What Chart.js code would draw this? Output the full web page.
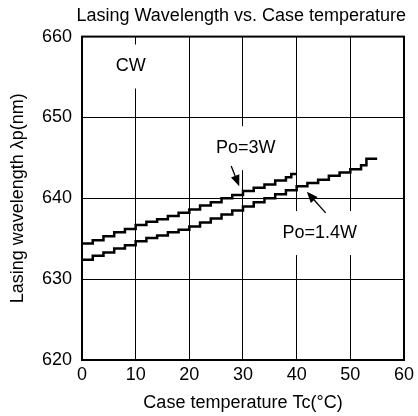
<!DOCTYPE html>
<html>
<head>
<meta charset="utf-8">
<script src="https://cdn.jsdelivr.net/npm/chart.js@4/dist/chart.umd.min.js"></script>
<style>
  html, body { margin: 0; padding: 0; background: #fff; }
  #wrap { width: 418px; height: 416px; }
</style>
</head>
<body>
<div id="wrap"><canvas id="chart" width="418" height="416"></canvas></div>
<script>
// Case temperature (°C) and wavelength (nm) for each stepped curve
const tempPo3W = [0, 2, 4, 6, 8, 10, 12, 14, 16, 18, 20, 22, 24, 26, 28, 30, 32, 34, 36, 38, 39, 40];
const wavePo3W = [634.4, 634.8, 635.3, 635.8, 636.2, 636.7, 637.1, 637.4, 637.8, 638.2, 638.6,
                  639.1, 639.5, 640.0, 640.4, 640.9, 641.3, 641.7, 642.2, 642.6, 643.0, 643.0];

const tempPo14W = [0, 2, 4, 6, 8, 10, 12, 14, 16, 18, 20, 22, 24, 26, 28, 30, 32, 34, 36, 38,
                   40, 42, 44, 46, 48, 50, 52, 53, 55];
const wavePo14W = [632.4, 632.9, 633.3, 633.8, 634.2, 634.7, 635.1, 635.4, 635.8, 636.1, 636.5,
                   637.0, 637.5, 638.0, 638.5, 639.0, 639.5, 640.0, 640.5, 641.0, 641.5,
                   641.9, 642.3, 642.8, 643.2, 643.6, 644.1, 644.9, 644.9];

const xTicks = [0, 10, 20, 30, 40, 50, 60];
const yTicks = [620, 630, 640, 650, 660];

const FONT = "'Liberation Sans', Arial, sans-serif";

function toPoints(xs, ys) {
    return xs.map((x, i) => ({ x: x, y: ys[i] }));
}

// Text labels and arrows, positioned in data coordinates
const notes = [
    { text: 'CW', x: 9.1, y: 656.3 },
    { text: 'Po=3W', x: 30.5, y: 646.2, arrow: [27.8, 644.0, 29.3, 641.5] },
    { text: 'Po=1.4W', x: 44.3, y: 635.7, arrow: [45.4, 638.2, 41.9, 640.8] }
];

const notesPlugin = {
    id: 'notes',
    beforeDatasetsDraw(chart) {
        // white boxes behind labels break the grid lines
        const { ctx, scales } = chart;
        ctx.save();
        ctx.font = '18px ' + FONT;
        ctx.fillStyle = '#fff';
        notes.forEach(n => {
            const w = ctx.measureText(n.text).width + 24;
            const cx = scales.x.getPixelForValue(n.x), cy = scales.y.getPixelForValue(n.y);
            ctx.fillRect(cx - w / 2, cy - 22, w, 44);
        });
        ctx.restore();
    },
    afterDatasetsDraw(chart) {
        const { ctx, scales } = chart;
        const xs = scales.x, ys = scales.y;
        ctx.save();
        ctx.fillStyle = '#000';
        ctx.strokeStyle = '#000';
        ctx.font = '18px ' + FONT;
        ctx.textAlign = 'center';
        ctx.textBaseline = 'middle';
        notes.forEach(n => {
            ctx.fillText(n.text, xs.getPixelForValue(n.x), ys.getPixelForValue(n.y));
            if (n.arrow) {
                const x1 = xs.getPixelForValue(n.arrow[0]), y1 = ys.getPixelForValue(n.arrow[1]);
                const x2 = xs.getPixelForValue(n.arrow[2]), y2 = ys.getPixelForValue(n.arrow[3]);
                const ang = Math.atan2(y2 - y1, x2 - x1);
                const hl = 11, hw = 4.5;
                const bx = x2 - hl * Math.cos(ang), by = y2 - hl * Math.sin(ang);
                ctx.lineWidth = 1.3;
                ctx.beginPath();
                ctx.moveTo(x1, y1);
                ctx.lineTo(bx, by);
                ctx.stroke();
                ctx.beginPath();
                ctx.moveTo(x2, y2);
                ctx.lineTo(bx + hw * Math.sin(ang), by - hw * Math.cos(ang));
                ctx.lineTo(bx - hw * Math.sin(ang), by + hw * Math.cos(ang));
                ctx.closePath();
                ctx.fill();
            }
        });
        // plot frame
        const a = chart.chartArea;
        ctx.lineWidth = 2;
        ctx.strokeRect(a.left, a.top, a.right - a.left, a.bottom - a.top);
        ctx.restore();
    }
};

new Chart(document.getElementById('chart'), {
    type: 'line',
    data: {
        datasets: [
            {
                label: 'Po=3W',
                data: toPoints(tempPo3W, wavePo3W),
                borderColor: '#000',
                borderWidth: 2.5,
                pointRadius: 0,
                stepped: 'before',
                fill: false
            },
            {
                label: 'Po=1.4W',
                data: toPoints(tempPo14W, wavePo14W),
                borderColor: '#000',
                borderWidth: 2.5,
                pointRadius: 0,
                stepped: 'before',
                fill: false
            }
        ]
    },
    options: {
        responsive: false,
        animation: false,
        layout: { padding: { left: 0, right: 12, top: 0, bottom: 0 } },
        plugins: {
            legend: { display: false },
            tooltip: { enabled: false },
            title: {
                display: true,
                align: 'end',
                text: 'Lasing Wavelength vs. Case temperature',
                color: '#000',
                font: { family: FONT, size: 18, weight: 'normal' },
                padding: { top: 5, bottom: 10 }
            }
        },
        scales: {
            x: {
                type: 'linear',
                min: 0,
                max: 60,
                afterBuildTicks: s => { s.ticks = xTicks.map(v => ({ value: v })); },
                afterFit: s => { s.height = 56; },
                grid: { color: '#000', lineWidth: 1, drawTicks: false },
                border: { display: false },
                ticks: { color: '#000', padding: 4, font: { family: FONT, size: 18 } },
                title: {
                    display: true,
                    text: 'Case temperature Tc(\u00B0C)',
                    color: '#000',
                    font: { family: FONT, size: 18 },
                    padding: { top: 0, bottom: 2 }
                }
            },
            y: {
                type: 'linear',
                min: 620,
                max: 660,
                afterBuildTicks: s => { s.ticks = yTicks.map(v => ({ value: v })); },
                afterFit: s => { s.width = 82; },
                grid: { color: '#000', lineWidth: 1, drawTicks: false },
                border: { display: false },
                ticks: { color: '#000', padding: 10, font: { family: FONT, size: 18 } },
                title: {
                    display: true,
                    text: 'Lasing wavelength \u03BBp(nm)',
                    color: '#000',
                    font: { family: FONT, size: 18 },
                    padding: { top: 7, bottom: 0 }
                }
            }
        }
    },
    plugins: [notesPlugin]
});
</script>
</body>
</html>
